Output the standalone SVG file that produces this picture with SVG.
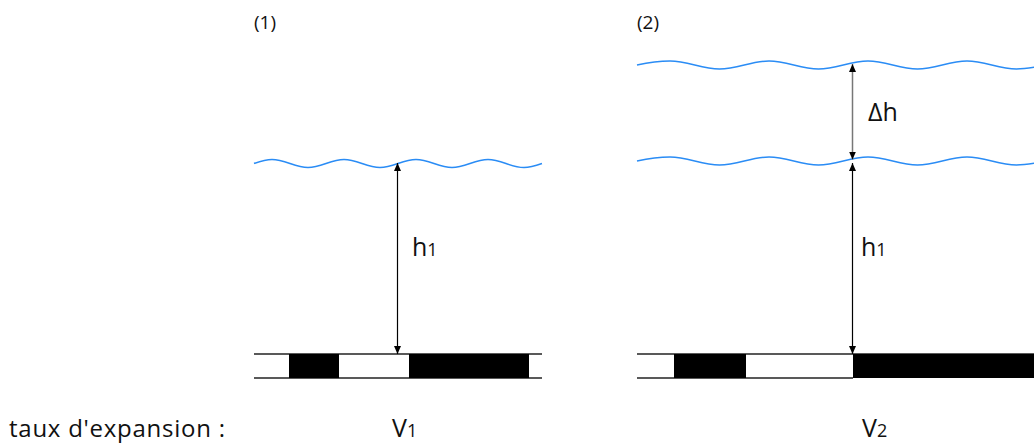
<svg xmlns="http://www.w3.org/2000/svg" width="1034" height="443" viewBox="0 0 1034 443">
  <style>
    .wave { fill: none; stroke: #2a8cf5; stroke-width: 1.5; }
    .floor { stroke: #222; stroke-width: 1.5; fill: none; }
    .blk { fill: #000; }
    .lbl { font-family: "Open Sans", "Noto Sans", sans-serif; fill: #111; }
    .arrow { stroke: #000; stroke-width: 1.2; fill: none; }
    .arrow-gray { stroke: #777; stroke-width: 1.5; fill: none; }
  </style>
  <defs>
    <marker id="ah" viewBox="0 0 8 7" refX="8" refY="3.5" markerWidth="8" markerHeight="7" markerUnits="userSpaceOnUse" orient="auto-start-reverse">
      <path d="M0,0 L8,3.5 L0,7 z" fill="#000"/>
    </marker>
    <path id="wave2" d="M637,65 C648,62.6 659,61 670,61 C688,61 701.5,69 719.5,69 C737.5,69 751,61 769,61 C787,61 800.5,69 818.5,69 C836.5,69 850,61 868,61 C886,61 899.5,69 917.5,69 C935.5,69 949,61 967,61 C985,61 998.5,69 1016.5,69 C1024,69 1030,68 1036,67"/>
  </defs>

  <g id="panel1-title"><text class="lbl" x="254" y="29" font-size="19">(1)</text></g>
  <g id="panel2-title"><text class="lbl" x="637" y="29" font-size="19">(2)</text></g>

  <g id="panel1-water">
    <path class="wave" d="M254,163.5 C260,161.4 266,159.5 272,159.5 C285.1,159.5 294.9,167.5 308,167.5 C321.1,167.5 330.9,159.5 344,159.5 C357.1,159.5 366.9,167.5 380,167.5 C393.1,167.5 402.9,159.5 416,159.5 C429.1,159.5 438.9,167.5 452,167.5 C465.1,167.5 474.9,159.5 488,159.5 C501.1,159.5 510.9,167.5 524,167.5 C530,167.5 536,165.6 542,163.5"/>
  </g>

  <g id="panel1-floor">
    <line class="floor" x1="254" y1="354" x2="542" y2="354"/>
    <line class="floor" x1="254" y1="378" x2="542" y2="378"/>
    <rect class="blk" x="289" y="354" width="50" height="24"/>
    <rect class="blk" x="409" y="354" width="120" height="24"/>
  </g>

  <g id="panel2-water-top"><use href="#wave2" class="wave"/></g>
  <g id="panel2-water-bottom"><use href="#wave2" class="wave" transform="translate(0,96)"/></g>

  <g id="panel2-floor">
    <line class="floor" x1="637" y1="354" x2="1034" y2="354"/>
    <line class="floor" x1="637" y1="378" x2="853" y2="378"/>
    <rect class="blk" x="674" y="354" width="72" height="24"/>
    <rect class="blk" x="853" y="354" width="181" height="24"/>
  </g>

  <g id="connectors">
    <line class="arrow" x1="397.5" y1="163" x2="397.5" y2="354" marker-start="url(#ah)" marker-end="url(#ah)"/>
    <line class="arrow-gray" x1="852.5" y1="64" x2="852.5" y2="159.5" marker-start="url(#ah)" marker-end="url(#ah)"/>
    <line class="arrow" x1="852.5" y1="163" x2="852.5" y2="354" marker-start="url(#ah)" marker-end="url(#ah)"/>
  </g>

  <g id="label-h1-left"><text class="lbl" x="412" y="256" font-size="25">h<tspan font-size="18">1</tspan></text></g>
  <g id="label-dh"><text class="lbl" x="868" y="121" font-size="25">Δh</text></g>
  <g id="label-h1-right"><text class="lbl" x="861" y="256" font-size="25">h<tspan font-size="18">1</tspan></text></g>

  <g id="label-taux"><text class="lbl" x="9" y="437" font-size="24" textLength="216" lengthAdjust="spacing">taux d'expansion :</text></g>
  <g id="label-v1"><text class="lbl" x="392" y="437" font-size="25">V<tspan font-size="18">1</tspan></text></g>
  <g id="label-v2"><text class="lbl" x="862" y="437" font-size="25">V<tspan font-size="18">2</tspan></text></g>
</svg>
